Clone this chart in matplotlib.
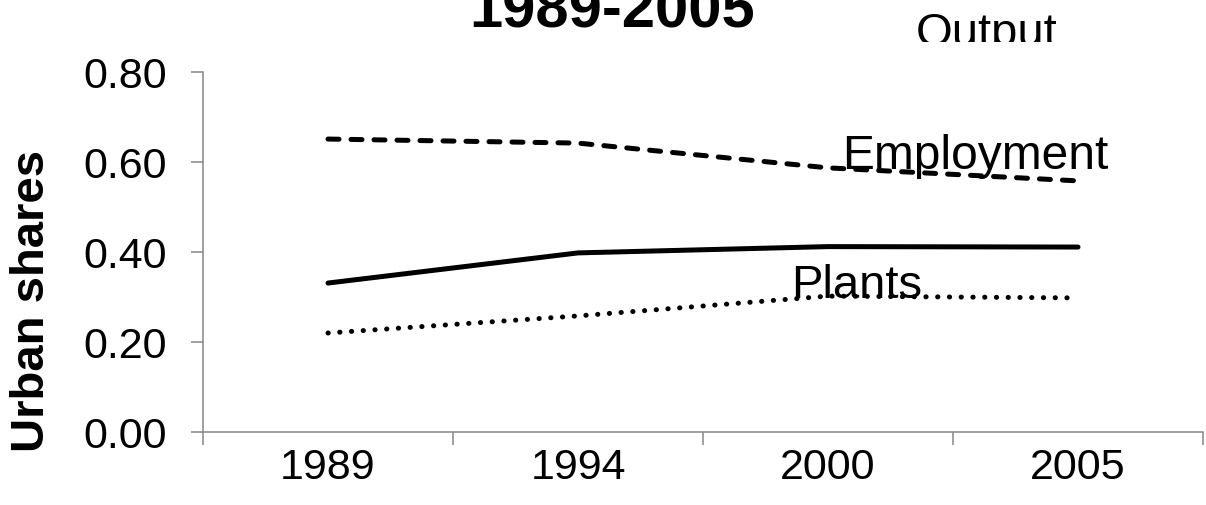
import matplotlib.pyplot as plt
from matplotlib.transforms import Bbox, TransformedBbox

plt.rcParams['font.family'] = ['Liberation Sans', 'DejaVu Sans']

years = ["1989", "1994", "2000", "2005"]
employment = [0.651, 0.642, 0.587, 0.558]
output = [0.331, 0.398, 0.412, 0.411]
plants = [0.220, 0.258, 0.302, 0.298]

W, H = 1206, 506
fig = plt.figure(figsize=(W / 100, H / 100), dpi=100)
ax = fig.add_axes([203 / W, (H - 433) / H, 1000 / W, 360 / H])

x = range(len(years))
lw = 3.6
ax.plot(x, employment, color="black", lw=lw, dashes=(2.2, 2.4),
        dash_capstyle="round", solid_capstyle="round")
ax.plot(x, output, color="black", lw=lw, solid_capstyle="round")
ax.plot(x, plants, color="black", lw=lw, dashes=(0.05, 2.3),
        dash_capstyle="round")

ax.set_xlim(-0.5, len(years) - 0.5)
ax.set_ylim(0, 0.8)

# category boundaries carry the tick marks, labels sit in between
ax.set_xticks([i - 0.5 for i in range(len(years) + 1)])
ax.set_xticklabels([])
ax.set_xticks(list(x), minor=True)
ax.set_xticklabels(years, minor=True)
ax.tick_params(axis="x", which="major", direction="out", length=9,
               width=1.1, color="#868686")
ax.tick_params(axis="x", which="minor", length=0, pad=11, labelsize=31)

ax.set_yticks([0, 0.2, 0.4, 0.6, 0.8])
ax.set_yticklabels([f"{v:.2f}" for v in [0, 0.2, 0.4, 0.6, 0.8]])
ax.tick_params(axis="y", direction="out", length=9, width=1.1,
               color="#868686", pad=17, labelsize=31)

for side in ["top", "right"]:
    ax.spines[side].set_visible(False)
for side in ["left", "bottom"]:
    ax.spines[side].set_color("#868686")
    ax.spines[side].set_linewidth(1.1)

def px(xp, yp):
    return xp / W, 1 - yp / H

fig.text(*px(612, 27), "1989-2005", ha="center", va="baseline",
         fontsize=43, fontweight="bold")
fig.text(*px(32, 301), "Urban shares", ha="center", va="center",
         rotation=90, fontsize=34, fontweight="bold")
fig.text(*px(842, 169), "Employment", ha="left", va="baseline", fontsize=34.5)
fig.text(*px(791, 298), "Plants", ha="left", va="baseline", fontsize=34)
# the "Output" label is cut off just below its baseline
t = fig.text(*px(916, 46), "Output", ha="left", va="baseline", fontsize=34)
t.set_clip_box(TransformedBbox(Bbox([[0, 1 - 43 / H], [1, 1]]), fig.transFigure))
t.set_clip_on(True)

fig.savefig("out.png", dpi=100)
